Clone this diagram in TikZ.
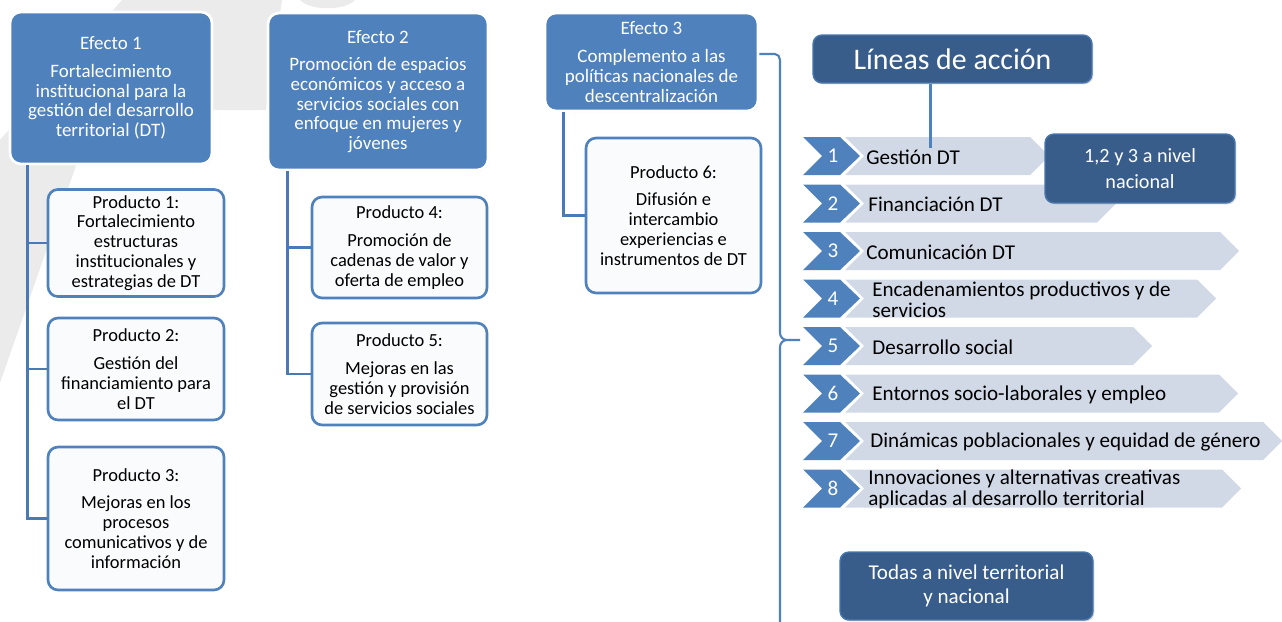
\documentclass[tikz,border=0pt]{standalone}
\usepackage{fontspec}
\setmainfont{Carlito}
\usetikzlibrary{shadows}
\definecolor{efblue}{HTML}{4F81BD}
\definecolor{darkblue}{HTML}{385D8A}
\definecolor{chevgray}{HTML}{D1D9E7}
\definecolor{wmgray}{HTML}{EBEBEB}
\definecolor{linkblue}{HTML}{4A7AB5}

\begin{document}
\begin{tikzpicture}[x=0.02cm, y=-0.02cm,
  efecto/.style={draw=white, line width=1.5pt, fill=efblue, rounded corners=0.22cm,
    text=white, align=center, inner xsep=2pt,
    font=\fontsize{10.8}{11.2}\selectfont,
    drop shadow={opacity=0.2, shadow xshift=0.6pt, shadow yshift=-0.6pt}},
  producto/.style={draw=efblue, line width=1.5pt, fill=white!97!efblue,
    rounded corners=0.2cm, align=center, inner xsep=2pt,
    font=\fontsize{10.5}{11.3}\selectfont},
  darkbox/.style={draw=efblue!70!darkblue, line width=0.8pt, fill=darkblue,
    rounded corners=0.18cm, text=white, align=center,
    drop shadow={opacity=0.3, shadow xshift=0.8pt, shadow yshift=-0.8pt}},
  link/.style={draw=linkblue, line width=1.6pt},
  brace/.style={draw=efblue, line width=1.2pt},
  numchev/.style={fill=efblue},
  linechev/.style={fill=chevgray},
  num/.style={text=white, font=\fontsize{12}{12}\selectfont},
  linea/.style={anchor=west, align=left, inner sep=0pt, font=\fontsize{12}{12}\selectfont}]
\useasboundingbox (0,0) rectangle (1282,622);

% watermark
\fill[wmgray] (122,0) -- (282,0) -- (266,110) -- (200,110) -- (200,150) -- (78,160)
  -- (0,383) -- (0,140) -- cycle;
\fill[wmgray] (300,0) .. controls (310,11) and (345,11) .. (355,0) -- cycle;

% efectos
\node[efecto, minimum width=4.04cm, minimum height=3.04cm] (e1) at (111,88)
  {Efecto 1\\[4.5pt] Fortalecimiento\\ institucional para la\\ gestión del desarrollo\\ territorial (DT)};
\node[efecto, minimum width=4.4cm, minimum height=3.14cm] (e2) at (378,91.5)
  {Efecto 2\\[4.5pt] Promoción de espacios\\ económicos y acceso a\\ servicios sociales con\\ enfoque en mujeres y\\ jóvenes};
\node[efecto, minimum width=4.26cm, minimum height=1.96cm] (e3) at (651.5,62)
  {Efecto 3\\[5pt] Complemento a las\\ políticas nacionales de\\ descentralización};

% productos
\node[producto, minimum width=3.52cm, minimum height=2.04cm] (p1) at (136,243)
  {Producto 1:\\ Fortalecimiento\\ estructuras\\ institucionales y\\ estrategias de DT};
\node[producto, minimum width=3.52cm, minimum height=2.04cm] (p2) at (136,369)
  {Producto 2:\\[4.5pt] Gestión del\\ financiamiento para\\ el DT};
\node[producto, minimum width=3.52cm, minimum height=2.86cm] (p3) at (136,518.5)
  {Producto 3:\\[4.5pt] Mejoras en los\\ procesos\\ comunicativos y de\\ información};
\node[producto, minimum width=3.5cm, minimum height=2.02cm] (p4) at (399.5,247.5)
  {Producto 4:\\[4.5pt] Promoción de\\ cadenas de valor y\\ oferta de empleo};
\node[producto, minimum width=3.5cm, minimum height=2.04cm] (p5) at (399.5,374)
  {Producto 5:\\[4.5pt] Mejoras en las\\ gestión y provisión\\ de servicios sociales};
\node[producto, minimum width=3.5cm, minimum height=3.1cm] (p6) at (673.5,215.5)
  {Producto 6:\\[4.5pt] Difusión e\\ intercambio\\ experiencias e\\ instrumentos de DT};

\path[link] (e1.south west) ++(19,0) |- (p1.west);
\path[link] (e1.south west) ++(19,0) |- (p2.west);
\path[link] (e1.south west) ++(19,0) |- (p3.west);
\path[link] (e2.south west) ++(21,0) |- (p4.west);
\path[link] (e2.south west) ++(21,0) |- (p5.west);
\path[link] (e3.south west) ++(20,0) |- (p6.west);

% llave
\coordinate (tip) at (800,340);
\path[brace] ([yshift=0.16cm]e3.east) -- (775,54) to[out=0,in=90] (780,60)
  -- (780,333) to[out=-90,in=180] (787,340) -- (tip);
\path[brace] (787,340) to[out=180,in=90] (780,347) -- (780,626);

% lineas de accion
\node[darkbox, minimum width=5.58cm, minimum height=0.96cm,
  font=\fontsize{17}{20}\selectfont] (lin) at (952.5,59) {Líneas de acción};

\fill[linechev] (845,137) -- (1030,137) -- ++(19,19) -- ++(-19,19) -- (845,175) -- ++(19,-19) -- cycle;
\fill[linechev] (845,184.5) -- (1097,184.5) -- ++(19,19) -- ++(-19,19) -- (845,222.5) -- ++(19,-19) -- cycle;
\fill[linechev] (845,232) -- (1220,232) -- ++(19,19) -- ++(-19,19) -- (845,270) -- ++(19,-19) -- cycle;
\fill[linechev] (845,279.5) -- (1197,279.5) -- ++(19,19) -- ++(-19,19) -- (845,317.5) -- ++(19,-19) -- cycle;
\fill[linechev] (845,327) -- (1133,327) -- ++(19,19) -- ++(-19,19) -- (845,365) -- ++(19,-19) -- cycle;
\fill[linechev] (845,374.5) -- (1219,374.5) -- ++(19,19) -- ++(-19,19) -- (845,412.5) -- ++(19,-19) -- cycle;
\fill[linechev] (845,422) -- (1263,422) -- ++(19,19) -- ++(-19,19) -- (845,460) -- ++(19,-19) -- cycle;
\fill[linechev] (845,469.5) -- (1222,469.5) -- ++(19,19) -- ++(-19,19) -- (845,507.5) -- ++(19,-19) -- cycle;

\fill[numchev] (803,137) -- ++(37,0) -- ++(20,19) -- ++(-20,19) -- ++(-37,0) -- ++(19,-19) -- cycle;
\fill[numchev] (803,184.5) -- ++(37,0) -- ++(20,19) -- ++(-20,19) -- ++(-37,0) -- ++(19,-19) -- cycle;
\fill[numchev] (803,232) -- ++(37,0) -- ++(20,19) -- ++(-20,19) -- ++(-37,0) -- ++(19,-19) -- cycle;
\fill[numchev] (803,279.5) -- ++(37,0) -- ++(20,19) -- ++(-20,19) -- ++(-37,0) -- ++(19,-19) -- cycle;
\fill[numchev] (803,327) -- ++(37,0) -- ++(20,19) -- ++(-20,19) -- ++(-37,0) -- ++(19,-19) -- cycle;
\fill[numchev] (803,374.5) -- ++(37,0) -- ++(20,19) -- ++(-20,19) -- ++(-37,0) -- ++(19,-19) -- cycle;
\fill[numchev] (803,422) -- ++(37,0) -- ++(20,19) -- ++(-20,19) -- ++(-37,0) -- ++(19,-19) -- cycle;
\fill[numchev] (803,469.5) -- ++(37,0) -- ++(20,19) -- ++(-20,19) -- ++(-37,0) -- ++(19,-19) -- cycle;

\node[num] (n1) at (833,156) {1};
\node[num] (n2) at (833,203.5) {2};
\node[num] (n3) at (833,251) {3};
\node[num] (n4) at (833,298.5) {4};
\node[num] (n5) at (833,346) {5};
\node[num] (n6) at (833,393.5) {6};
\node[num] (n7) at (833,441) {7};
\node[num] (n8) at (833,488.5) {8};

\node[linea] (l1) at (866,157) {Gestión DT};
\node[linea] (l2) at (868,204.5) {Financiación DT};
\node[linea] (l3) at (866,252) {Comunicación DT};
\node[linea] (l4) at (872,299.5) {Encadenamientos productivos y de\\ servicios};
\node[linea] (l5) at (872,347) {Desarrollo social};
\node[linea] (l6) at (872,394.5) {Entornos socio-laborales y empleo};
\node[linea] (l7) at (870,442) {Dinámicas poblacionales y equidad de género};
\node[linea] (l8) at (868,489.5) {Innovaciones y alternativas creativas\\ aplicadas al desarrollo territorial};

\path[link, line width=1.2pt, draw=efblue] (lin.south) ++(-22,0) -- ++(0,64);

\node[darkbox, minimum width=3.8cm, minimum height=1.38cm,
  font=\fontsize{11.5}{14.5}\selectfont] (nac) at (1140,168.5) {1,2 y 3 a nivel\\ nacional};
\node[darkbox, minimum width=5.06cm, minimum height=1.36cm,
  font=\fontsize{12}{13.6}\selectfont] (todas) at (966.5,586) {Todas a nivel territorial\\ y nacional};
\end{tikzpicture}
\end{document}
